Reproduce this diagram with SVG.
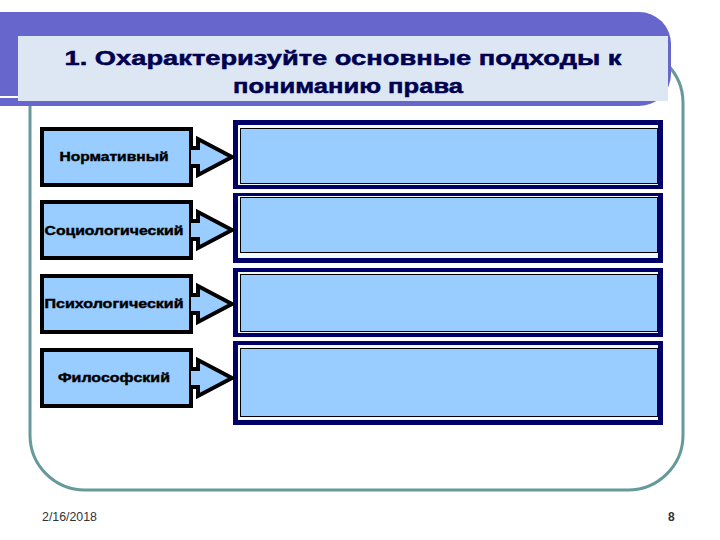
<svg xmlns="http://www.w3.org/2000/svg" width="720" height="540" viewBox="0 0 720 540">
<style>
.lbl{font-family:"Liberation Sans",Arial,sans-serif;font-weight:bold;font-size:12px;fill:#000;stroke:#000;stroke-width:0.4;}
.title{font-family:"Liberation Sans",Arial,sans-serif;font-weight:bold;font-size:21px;fill:#000050;stroke:#000050;stroke-width:0.5;}
.foot{font-family:"Liberation Sans",Arial,sans-serif;font-size:12px;fill:#333;}
.lbox{fill:#99ccff;stroke:#000;stroke-width:4;}
.arr{fill:#99ccff;stroke:#000;stroke-width:4;stroke-linejoin:miter;}
.nav{fill:#000066;}
.wht{fill:#f4fbff;}
.blu{fill:#99ccff;stroke:#000;stroke-width:1;}
</style>
<rect width="720" height="540" fill="#fff"/>
<g id="frame">
<rect x="30" y="48" width="653" height="442" rx="55" ry="55" fill="none" stroke="#669999" stroke-width="3"/>
</g>
<g id="banner">
<rect x="-40" y="12" width="711" height="94" rx="32" ry="32" fill="#6666cc"/>
<rect x="0" y="96" width="18" height="2" fill="#fff"/>
<rect x="18" y="36" width="650" height="65" fill="#dde7f3"/>
<text class="title" x="343" y="65" text-anchor="middle" textLength="557" lengthAdjust="spacingAndGlyphs">1. Охарактеризуйте основные подходы к</text>
<text class="title" x="348" y="93" text-anchor="middle" textLength="230" lengthAdjust="spacingAndGlyphs">пониманию права</text>
</g>
<g id="n1">
<rect class="lbox" x="42" y="129" width="149" height="56"/>
<text class="lbl" x="114" y="161" text-anchor="middle" textLength="109" lengthAdjust="spacingAndGlyphs">Нормативный</text>
</g>
<g id="n2">
<rect class="lbox" x="42" y="202" width="149" height="56"/>
<text class="lbl" x="114" y="235" text-anchor="middle" textLength="139" lengthAdjust="spacingAndGlyphs">Социологический</text>
</g>
<g id="n3">
<rect class="lbox" x="42" y="276" width="149" height="56"/>
<text class="lbl" x="114" y="308" text-anchor="middle" textLength="139" lengthAdjust="spacingAndGlyphs">Психологический</text>
</g>
<g id="n4">
<rect class="lbox" x="42" y="350" width="149" height="56"/>
<text class="lbl" x="114" y="382" text-anchor="middle" textLength="112" lengthAdjust="spacingAndGlyphs">Философский</text>
</g>
<g id="r1">
<rect class="nav" x="233" y="120" width="430" height="69"/>
<rect class="wht" x="238" y="125" width="420" height="60"/>
<rect class="blu" x="240.5" y="128.5" width="417" height="55"/>
</g>
<g id="r2">
<rect class="nav" x="233" y="193" width="430" height="70"/>
<rect class="wht" x="238" y="196" width="420" height="62"/>
<rect class="blu" x="240.5" y="197.5" width="417" height="55"/>
</g>
<g id="r3">
<rect class="nav" x="233" y="268" width="430" height="69"/>
<rect class="wht" x="238" y="272" width="420" height="61"/>
<rect class="blu" x="240.5" y="274.5" width="417" height="57"/>
</g>
<g id="r4">
<rect class="nav" x="233" y="341" width="430" height="84"/>
<rect class="wht" x="238" y="345" width="420" height="75"/>
<rect class="blu" x="240.5" y="348.5" width="417" height="68"/>
</g>
<g id="connectors">
<path class="arr" d="M191,148 H198 V139 L232,157 L198,175 V166 H191"/>
<path class="arr" d="M191,221 H198 V212 L232,230 L198,248 V239 H191"/>
<path class="arr" d="M191,295 H198 V286 L232,304 L198,322 V313 H191"/>
<path class="arr" d="M191,369 H198 V360 L232,378 L198,396 V387 H191"/>
</g>
<g id="footer">
<text class="foot" x="42" y="521" textLength="55" lengthAdjust="spacingAndGlyphs">2/16/2018</text>
<text class="foot" x="668" y="521" font-weight="bold">8</text>
</g>
</svg>
